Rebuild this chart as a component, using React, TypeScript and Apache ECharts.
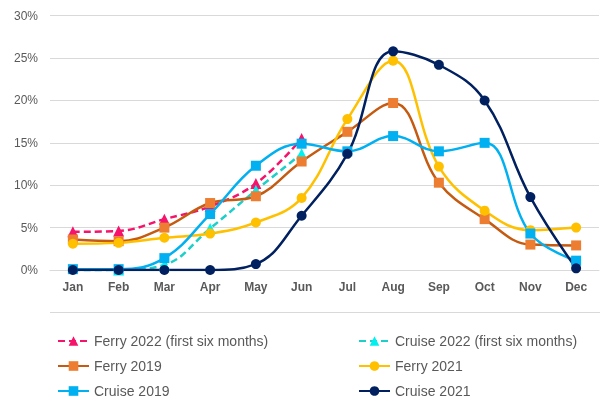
import React, { useEffect, useRef } from "react";
import * as echarts from "echarts";

const months = ["Jan", "Feb", "Mar", "Apr", "May", "Jun", "Jul", "Aug", "Sep", "Oct", "Nov", "Dec"];
const yTicks = [0, 5, 10, 15, 20, 25, 30];

const ferry2022 = [4.5, 4.6, 6.0, 7.5, 10.2, 15.5];
const cruise2022 = [-0.2, 0.0, 0.6, 4.9, 9.4, 13.7];
const ferry2019 = [3.6, 3.4, 5.0, 7.9, 8.7, 12.8, 16.3, 19.7, 10.3, 6.0, 3.0, 2.9];
const ferry2021 = [3.1, 3.2, 3.8, 4.3, 5.6, 8.5, 17.8, 24.7, 12.2, 7.0, 4.7, 5.0];
const cruise2019 = [0.1, 0.1, 1.4, 6.6, 12.3, 14.9, 14.0, 15.8, 14.0, 15.0, 4.3, 1.1];
const cruise2021 = [0.0, 0.0, 0.0, 0.0, 0.7, 6.4, 13.7, 25.8, 24.2, 20.0, 8.6, 0.2];

const seriesNames = [
  "Ferry 2022 (first six months)",
  "Cruise 2022 (first six months)",
  "Ferry 2019",
  "Ferry 2021",
  "Cruise 2019",
  "Cruise 2021",
];

export default function App() {
  const ref = useRef<HTMLDivElement>(null);
  useEffect(() => {
    if (!ref.current) return;
    const chart = echarts.init(ref.current, undefined, { renderer: "svg" });
    const mk = (
      name: string,
      data: number[],
      lineColor: string,
      markerColor: string,
      symbol: string,
      size: number,
      dashed: boolean
    ) => ({
      name,
      type: "line",
      data,
      smooth: 0.4,
      symbol,
      symbolSize: size,
      lineStyle: { color: lineColor, width: 2.5, type: dashed ? [7, 4] : "solid" },
      itemStyle: { color: markerColor, borderWidth: 0 },
      emphasis: { disabled: true },
    });
    const legendPos = [
      { left: 57, top: 334 },
      { left: 358, top: 334 },
      { left: 57, top: 359 },
      { left: 358, top: 359 },
      { left: 57, top: 384 },
      { left: 358, top: 384 },
    ];
    chart.setOption({
      animation: false,
      grid: { left: 50, right: 1, top: 15.7, bottom: 131 },
      xAxis: {
        type: "category",
        data: months,
        boundaryGap: true,
        axisLine: { lineStyle: { color: "#d9d9d9", width: 1 } },
        axisTick: { show: false },
        axisLabel: {
          color: "#595959",
          fontSize: 12,
          fontWeight: "bold",
          fontFamily: "Liberation Sans, Arial, sans-serif",
          margin: 11,
        },
      },
      yAxis: {
        type: "value",
        min: 0,
        max: 30,
        interval: 5,
        axisLine: { show: false },
        axisTick: { show: false },
        splitLine: { lineStyle: { color: "#d9d9d9", width: 1 } },
        axisLabel: {
          color: "#595959",
          fontSize: 12,
          fontFamily: "Liberation Sans, Arial, sans-serif",
          margin: 12,
          formatter: (v: number) => (yTicks.includes(v) ? v + "%" : ""),
        },
      },
      legend: seriesNames.map((n, i) => ({
        data: [n],
        left: legendPos[i].left,
        top: legendPos[i].top,
        padding: 0,
        itemWidth: 31,
        itemHeight: 12,
        textStyle: {
          color: "#595959",
          fontSize: 14,
          fontFamily: "Liberation Sans, Arial, sans-serif",
        },
      })),
      graphic: [
        {
          type: "line",
          shape: { x1: 50, y1: 312.5, x2: 600, y2: 312.5 },
          style: { stroke: "#d9d9d9", lineWidth: 1 },
          silent: true,
        },
      ],
      series: [
        mk(seriesNames[0], ferry2022, "#F5136B", "#F5136B", "triangle", 11, true),
        mk(seriesNames[1], cruise2022, "#1CCFC9", "#00F0F0", "triangle", 11, true),
        mk(seriesNames[2], ferry2019, "#C55A11", "#ED7D31", "rect", 10, false),
        mk(seriesNames[3], ferry2021, "#FFC000", "#FFC000", "circle", 10, false),
        mk(seriesNames[4], cruise2019, "#00B0F0", "#00B0F0", "rect", 10, false),
        mk(seriesNames[5], cruise2021, "#002060", "#002060", "circle", 10, false),
      ],
    });
    return () => chart.dispose();
  }, []);
  return <div ref={ref} style={{ width: 600, height: 401, position: "fixed", left: 0, top: 0 }} />;
}
